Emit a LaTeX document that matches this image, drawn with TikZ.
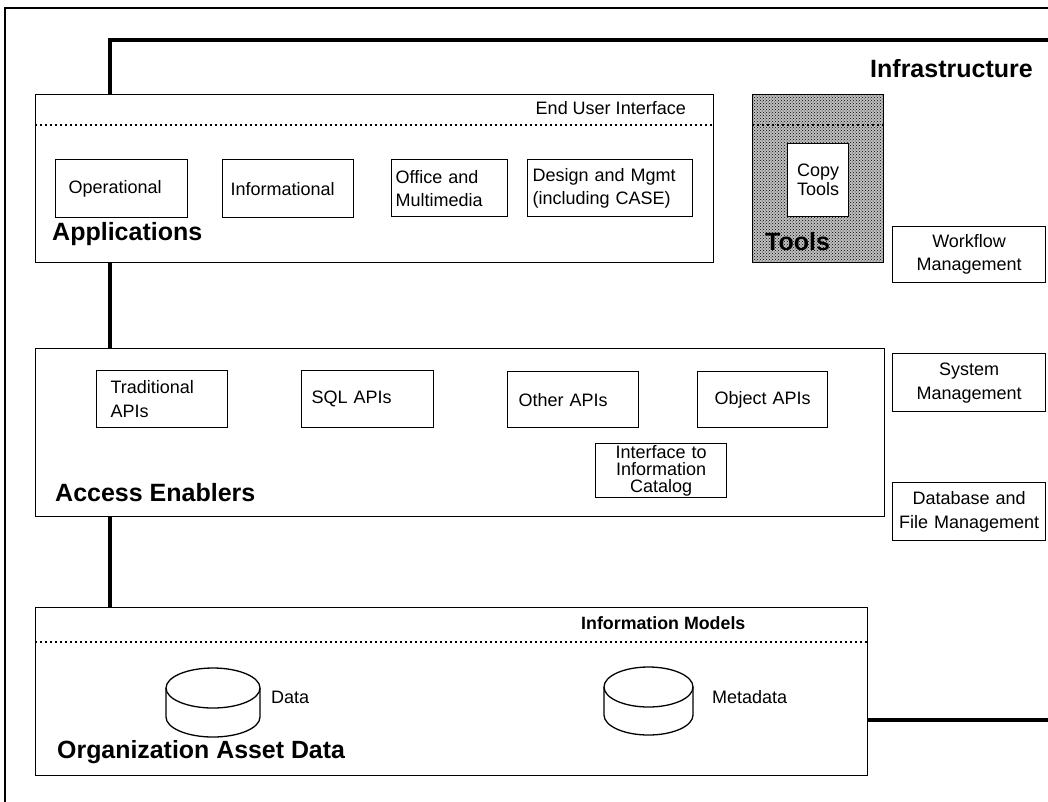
\documentclass[tikz,border=0pt]{standalone}
\usepackage{fontspec}
\setmainfont{Liberation Sans}
\usetikzlibrary{patterns}
\newcommand\cellfont{\fontsize{18}{23}\selectfont}
\newcommand\headfont{\fontsize{25}{30}\selectfont\bfseries}
\tikzset{
  layer/.style={draw,line width=1.4pt,fill=white,anchor=north west,inner sep=0pt},
  cell/.style={draw,line width=1.2pt,fill=white,anchor=north west,align=left,
               inner xsep=7pt,inner ysep=0pt,minimum height=57pt,font=\cellfont},
  ccell/.style={cell,align=center},
  head/.style={anchor=base west,inner sep=0pt,font=\headfont},
  note/.style={anchor=base west,inner sep=0pt,font=\cellfont},
  infra/.style={line width=3.6pt},
  sep/.style={line width=1.2pt,dash pattern=on 1.6pt off 3.4pt},
  drum/.style={line width=1.3pt},
}

\begin{document}
\begin{tikzpicture}[x=1pt,y=-1pt]
  \useasboundingbox (0,0) rectangle (1048,801);
  % outer frame, open to the right and at the bottom
  \coordinate (frameSW) at (5,815);
  \coordinate (frameNE) at (1062,8);
  \draw[line width=1.5pt] (frameSW) |- (frameNE);

  % infrastructure spine, runs behind the layers
  \coordinate (spine) at (110,40);
  \coordinate (spineS) at (110,607);
  \coordinate (infraNE) at (1062,40);
  \coordinate (infraSE) at (1062,720);
  \draw[infra] (infraNE) -- (spine) -- (spineS);
  \node[head] (infraT) at (870,77) {Infrastructure};

  % applications layer
  \node[layer,minimum width=678pt,minimum height=168pt] (apps) at (35,94) {};
  \draw[sep] ([yshift=-31pt]apps.north west) -- ([yshift=-31pt]apps.north east);
  \node[note,anchor=base east] (eui) at (686,114) {End User Interface};
  \node[cell,inner xsep=13pt,text width=106pt,minimum height=58pt] (oper) at (55,159) {\raisebox{-3pt}{Operational}};
  \node[cell,inner xsep=8pt,text width=115pt,minimum height=58pt] (info) at (222,159) {Informational};
  \node[cell,inner xsep=4pt,text width=108pt] (office) at (391,159) {Office and\\Multimedia};
  \node[cell,inner xsep=5pt,text width=155pt] (design) at (527,159) {Design and Mgmt\\(including CASE)};
  \node[head] (appsT) at (52,240) {Applications};

  % tools
  \node[layer,minimum width=131pt,minimum height=168pt,fill=gray!50,
        postaction={pattern=crosshatch dots}] (tools) at (752,94) {};
  \draw[sep] ([yshift=-31pt]tools.north west) -- ([yshift=-31pt]tools.north east);
  \node[ccell,text width=47pt,minimum height=73pt,font=\fontsize{18}{19}\selectfont] (copy) at (787,143) {Copy\\Tools};
  \node[head] (toolsT) at (765,250) {Tools};

  % infrastructure services
  \node[ccell,text width=139pt,minimum height=56pt] (workflow) at (892,226) {Workflow\\Management};
  \node[ccell,text width=139pt,minimum height=58pt,font=\fontsize{18}{24}\selectfont] (sysmgmt) at (892,353) {System\\Management};
  \node[ccell,inner xsep=1pt,text width=151pt,minimum height=58pt,font=\fontsize{18}{24}\selectfont] (dbfile) at (892,482) {Database and\\File Management};

  % access enablers layer
  \node[layer,minimum width=849pt,minimum height=168pt] (access) at (35,348) {};
  \node[cell,inner xsep=14pt,text width=103pt,font=\fontsize{18}{24}\selectfont] (trad) at (96,370) {Traditional\\APIs};
  \node[cell,inner xsep=10pt,text width=112pt] (sql) at (301,370) {SQL APIs};
  \node[cell,inner xsep=11pt,text width=109pt,minimum height=56pt] (other) at (507,371) {Other APIs};
  \node[ccell,text width=116pt,minimum height=56pt] (object) at (697,371) {Object APIs};
  \node[ccell,text width=117pt,minimum height=54pt,font=\fontsize{18}{17}\selectfont] (catalog) at (595,443) {Interface to\\Information\\Catalog};
  \node[head] (accessT) at (55,501) {Access Enablers};

  % organization asset data layer
  \node[layer,minimum width=832pt,minimum height=168pt] (orgdata) at (35,607) {};
  \draw[sep] ([yshift=-35pt]orgdata.north west) -- ([yshift=-35pt]orgdata.north east);
  \node[note,font=\fontsize{17.8}{21}\selectfont\bfseries] (infomodels) at (581,629) {Information Models};
  \coordinate (datadb) at (213,688);
  \coordinate (metadb) at (648.5,687);
  \draw[drum] (datadb) ellipse [x radius=47pt,y radius=20pt];
  \draw[drum] ([xshift=-47pt]datadb) -- ++(0,29)
    arc[start angle=180,end angle=360,x radius=47pt,y radius=20pt] -- ++(0,-29);
  \draw[drum] (metadb) ellipse [x radius=44.5pt,y radius=20pt];
  \draw[drum] ([xshift=-44.5pt]metadb) -- ++(0,28)
    arc[start angle=180,end angle=360,x radius=44.5pt,y radius=20pt] -- ++(0,-28);
  \node[note] (dataL) at (271,703) {Data};
  \node[note] (metaL) at (712,703) {Metadata};
  \node[head,font=\fontsize{24.9}{29}\selectfont\bfseries] (orgT) at (57,758) {Organization Asset Data};
  \draw[infra] (orgdata.east |- infraSE) -- (infraSE);
\end{tikzpicture}
\end{document}
